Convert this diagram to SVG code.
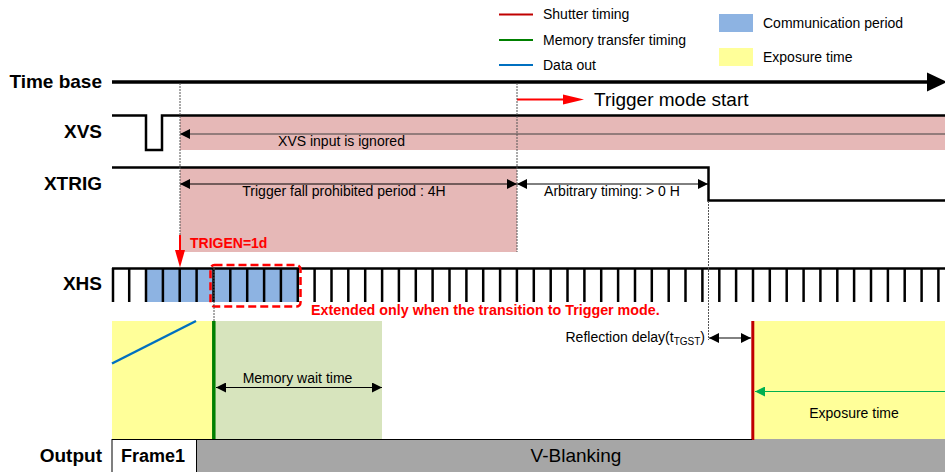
<svg xmlns="http://www.w3.org/2000/svg" width="945" height="472" viewBox="0 0 945 472">
<style>
text{font-family:"Liberation Sans",Arial,sans-serif;fill:#000}
.lbl{font-size:19px;font-weight:bold;text-anchor:end}
.t14{font-size:14px}
.sig{fill:none;stroke:#000;stroke-width:2.5}
.dot{stroke:#555;stroke-width:1;stroke-dasharray:2 1;fill:none}
.dim{stroke:#000;stroke-width:1;fill:none}
.tick{stroke:#000;stroke-width:2.5}
</style>
<defs>
<marker id="ah" viewBox="0 0 10 10" refX="10" refY="5" markerWidth="10" markerHeight="10" markerUnits="userSpaceOnUse" orient="auto-start-reverse"><path d="M0,0L10,5L0,10z" fill="#000"/></marker>
<marker id="ahg" viewBox="0 0 10 10" refX="10" refY="5" markerWidth="10" markerHeight="10" markerUnits="userSpaceOnUse" orient="auto-start-reverse"><path d="M0,0L10,5L0,10z" fill="#00b050"/></marker>
</defs>
<rect width="945" height="472" fill="#fff"/>

<g id="legend">
<line x1="499" y1="14.5" x2="533" y2="14.5" stroke="#c00000" stroke-width="2"/>
<text class="t14" x="543" y="19">Shutter timing</text>
<line x1="499" y1="40" x2="533" y2="40" stroke="#008000" stroke-width="2"/>
<text class="t14" x="543" y="45">Memory transfer timing</text>
<line x1="499" y1="65" x2="533" y2="65" stroke="#0070c0" stroke-width="2"/>
<text class="t14" x="543" y="70">Data out</text>
<rect x="719" y="14" width="34" height="18" fill="#8db3e2"/>
<text class="t14" x="763" y="28">Communication period</text>
<rect x="719" y="48" width="34" height="18" fill="#ffff99"/>
<text class="t14" x="763" y="62">Exposure time</text>
</g>

<g id="regions">
<rect x="180" y="115" width="765" height="35" fill="#e6b8b7"/>
<rect x="180" y="167" width="337" height="85" fill="#e6b8b7"/>
<rect x="112" y="321" width="101" height="118" fill="#ffff99"/>
<rect x="214" y="321" width="168" height="118" fill="#d7e4bd"/>
<rect x="753" y="321" width="192" height="119" fill="#ffff99"/>
<rect x="197" y="439" width="748" height="33" fill="#a6a6a6"/>
</g>

<g id="timebase">
<text class="lbl" x="102" y="88">Time base</text>
<line x1="112" y1="82" x2="930" y2="82" stroke="#000" stroke-width="3.3"/>
<polygon points="927,72.5 947,82 927,91.5" fill="#000"/>
</g>

<g id="trigger-start">
<line x1="517" y1="99.5" x2="565" y2="99.5" stroke="#ff0000" stroke-width="2"/>
<polygon points="563,94.5 584,99.5 563,104.5" fill="#ff0000"/>
<text x="594" y="105.5" style="font-size:19px">Trigger mode start</text>
</g>

<g id="xvs">
<text class="lbl" x="102" y="138">XVS</text>
<polyline class="sig" points="112,115.5 146,115.5 146,150 162,150 162,115.5 945,115.5"/>
<line x1="945" y1="134" x2="180" y2="134" stroke="#404040" stroke-width="1" marker-end="url(#ah)"/>
<text class="t14" x="341.5" y="146" text-anchor="middle">XVS input is ignored</text>
</g>

<g id="xtrig">
<text class="lbl" x="102" y="190">XTRIG</text>
<polyline class="sig" points="112,167.5 708.5,167.5 708.5,200.5 945,200.5"/>
<line class="dim" x1="180" y1="184" x2="517" y2="184" marker-start="url(#ah)" marker-end="url(#ah)"/>
<text class="t14" x="344" y="196" text-anchor="middle">Trigger fall prohibited period : 4H</text>
<line class="dim" x1="517" y1="184" x2="708" y2="184" marker-start="url(#ah)" marker-end="url(#ah)"/>
<text class="t14" x="612" y="196" text-anchor="middle">Arbitrary timing: &gt; 0 H</text>
</g>

<g id="xhs">
<text class="lbl" x="102" y="290">XHS</text>
<rect x="146" y="268" width="152" height="34" fill="#8db3e2"/>
<line x1="112" y1="268.5" x2="945" y2="268.5" stroke="#000" stroke-width="2.5"/>
<g class="tick">
<line x1="113" y1="268" x2="113" y2="302"/><line x1="129.2" y1="268" x2="129.2" y2="302"/><line x1="146" y1="268" x2="146" y2="302"/><line x1="162.9" y1="268" x2="162.9" y2="302"/><line x1="179.7" y1="268" x2="179.7" y2="302"/><line x1="196.6" y1="268" x2="196.6" y2="302"/><line x1="213.5" y1="268" x2="213.5" y2="302"/><line x1="230.3" y1="268" x2="230.3" y2="302"/><line x1="247.2" y1="268" x2="247.2" y2="302"/><line x1="264.1" y1="268" x2="264.1" y2="302"/><line x1="280.9" y1="268" x2="280.9" y2="302"/><line x1="297.8" y1="268" x2="297.8" y2="302"/><line x1="314.6" y1="268" x2="314.6" y2="302"/><line x1="331.5" y1="268" x2="331.5" y2="302"/><line x1="348.3" y1="268" x2="348.3" y2="302"/><line x1="365.2" y1="268" x2="365.2" y2="302"/><line x1="382.1" y1="268" x2="382.1" y2="302"/><line x1="398.9" y1="268" x2="398.9" y2="302"/><line x1="415.8" y1="268" x2="415.8" y2="302"/><line x1="432.6" y1="268" x2="432.6" y2="302"/><line x1="449.5" y1="268" x2="449.5" y2="302"/><line x1="466.4" y1="268" x2="466.4" y2="302"/><line x1="483.2" y1="268" x2="483.2" y2="302"/><line x1="500.1" y1="268" x2="500.1" y2="302"/><line x1="516.9" y1="268" x2="516.9" y2="302"/><line x1="533.8" y1="268" x2="533.8" y2="302"/><line x1="550.7" y1="268" x2="550.7" y2="302"/><line x1="567.5" y1="268" x2="567.5" y2="302"/><line x1="584.4" y1="268" x2="584.4" y2="302"/><line x1="601.2" y1="268" x2="601.2" y2="302"/><line x1="618.1" y1="268" x2="618.1" y2="302"/><line x1="635" y1="268" x2="635" y2="302"/><line x1="651.8" y1="268" x2="651.8" y2="302"/><line x1="668.7" y1="268" x2="668.7" y2="302"/><line x1="685.5" y1="268" x2="685.5" y2="302"/><line x1="702.4" y1="268" x2="702.4" y2="302"/><line x1="719.3" y1="268" x2="719.3" y2="302"/><line x1="736.1" y1="268" x2="736.1" y2="302"/><line x1="753" y1="268" x2="753" y2="302"/><line x1="769.8" y1="268" x2="769.8" y2="302"/><line x1="786.7" y1="268" x2="786.7" y2="302"/><line x1="803.6" y1="268" x2="803.6" y2="302"/><line x1="820.4" y1="268" x2="820.4" y2="302"/><line x1="837.3" y1="268" x2="837.3" y2="302"/><line x1="854.1" y1="268" x2="854.1" y2="302"/><line x1="871" y1="268" x2="871" y2="302"/><line x1="887.9" y1="268" x2="887.9" y2="302"/><line x1="904.7" y1="268" x2="904.7" y2="302"/><line x1="921.6" y1="268" x2="921.6" y2="302"/><line x1="938.4" y1="268" x2="938.4" y2="302"/>
</g>
<rect x="210.5" y="265" width="90" height="41.5" rx="4" fill="none" stroke="#ff0000" stroke-width="2.5" stroke-dasharray="8 4"/>
<text x="311" y="315" style="font-size:14.3px;font-weight:bold;fill:#ff0000">Extended only when the transition to Trigger mode.</text>
</g>

<g id="trigen">
<line x1="180" y1="235" x2="180" y2="252" stroke="#ff0000" stroke-width="2"/>
<polygon points="175,250 185,250 180,267.5" fill="#ff0000"/>
<text x="190" y="247.5" style="font-size:14px;font-weight:bold;fill:#ff0000">TRIGEN=1d</text>
</g>

<g id="guides">
<line class="dot" x1="180" y1="83" x2="180" y2="235"/>
<line class="dot" x1="517" y1="83" x2="517" y2="252"/>
<line class="dot" x1="708.5" y1="201" x2="708.5" y2="340"/>
<line class="dot" x1="214" y1="268" x2="214" y2="321"/>
</g>

<g id="memory">
<line x1="112" y1="363.5" x2="196" y2="321" stroke="#0070c0" stroke-width="2.5"/>
<line x1="213.8" y1="321" x2="213.8" y2="439" stroke="#008000" stroke-width="3.5"/>
<line class="dim" x1="216" y1="387.5" x2="382" y2="387.5" marker-start="url(#ah)" marker-end="url(#ah)"/>
<text class="t14" x="297.5" y="383" text-anchor="middle">Memory wait time</text>
</g>

<g id="exposure">
<text class="t14" x="705" y="342" text-anchor="end">Reflection delay(t<tspan style="font-size:10px" dy="3">TGST</tspan><tspan dy="-3">)</tspan></text>
<line x1="709" y1="338" x2="751" y2="338" stroke="#595959" stroke-width="1.5" marker-start="url(#ah)" marker-end="url(#ah)"/>
<line x1="945" y1="391.5" x2="755" y2="391.5" stroke="#00b050" stroke-width="1" marker-end="url(#ahg)"/>
<text class="t14" x="854" y="418" text-anchor="middle">Exposure time</text>
<line x1="752.8" y1="321" x2="752.8" y2="440" stroke="#c00000" stroke-width="3"/>
</g>

<g id="output">
<line x1="112" y1="439.5" x2="752" y2="439.5" stroke="#000" stroke-width="1"/>
<text class="lbl" x="102" y="462">Output</text>
<rect x="112" y="439.5" width="84.5" height="34" fill="#fff" stroke="#000" stroke-width="1"/>
<text x="121" y="462" style="font-size:18px;font-weight:bold">Frame1</text>
<text x="576" y="462" text-anchor="middle" style="font-size:19px">V-Blanking</text>
</g>
</svg>
